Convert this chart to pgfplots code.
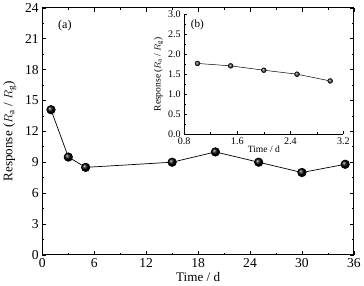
\documentclass[border=0pt]{standalone}
\usepackage{pgfplots}
\pgfplotsset{compat=1.18}
\usepackage{fontspec}
\setmainfont{Liberation Serif}
\begin{document}
\begin{tikzpicture}
\begin{axis}[
  name=main,
  scale only axis, width=309pt, height=245pt,
  xmin=0, xmax=36, ymin=0, ymax=24,
  xtick={0,6,...,36}, ytick={0,3,...,24},
  minor x tick num=1, minor y tick num=1,
  tick align=inside,
  major tick length=4pt, minor tick length=2pt,
  tick style={black, line width=0.6pt},
  axis line style={line width=0.8pt},
  ticklabel style={font=\fontsize{13.5}{14}\selectfont},
  /pgf/number format/assume math mode=true,
  xlabel={Time / d},
  ylabel={Response ($R_\mathrm{a}$ / $R_\mathrm{g}$)},
  label style={font=\fontsize{13}{14}\selectfont},
  xlabel style={yshift=2pt},
  ylabel style={yshift=2pt},
  clip=false,
]
\addplot[black, line width=0.7pt, mark=ball, mark size=4.2pt, mark options={ball color=black}]
 coordinates {(1,14.1) (3,9.5) (5,8.5) (15,9.0) (20,10.0) (25,9.0) (30,8.0) (35,8.8)};
\node[font=\fontsize{12}{13}\selectfont] at (axis cs:2.6,22.3) {(a)};
\end{axis}
\begin{axis}[
  at={(140.7pt,120pt)}, anchor=origin,
  scale only axis, width=158pt, height=118.4pt,
  xmin=0.8, xmax=3.2, ymin=0, ymax=3.0,
  xtick={0.8,1.6,2.4,3.2}, ytick={0,0.5,...,3.0},
  minor x tick num=1, minor y tick num=1,
  axis lines=left, axis line style={-, line width=0.6pt},
  tick align=inside,
  major tick length=3pt, minor tick length=1.5pt,
  tick style={black, line width=0.5pt},
  ticklabel style={font=\fontsize{10}{11}\selectfont},
  xticklabel style={/pgf/number format/.cd, fixed, fixed zerofill, precision=1},
  yticklabel style={/pgf/number format/.cd, fixed, fixed zerofill, precision=1},
  /pgf/number format/assume math mode=true,
  xlabel={Time / d},
  ylabel={Response ($R_\mathrm{a}$ / $R_\mathrm{g}$)},
  label style={font=\fontsize{9.5}{10}\selectfont},
  xlabel style={yshift=5pt},
  ylabel style={yshift=-2pt},
  clip=false,
]
\addplot[black, line width=0.5pt, mark=ball, mark size=2.4pt, mark options={ball color=black!70}]
 coordinates {(1.0,1.77) (1.5,1.71) (2.0,1.60) (2.5,1.50) (3.0,1.33)};
\node[font=\fontsize{11}{12}\selectfont] at (axis cs:1.0,2.75) {(b)};
\end{axis}
\end{tikzpicture}
\end{document}
